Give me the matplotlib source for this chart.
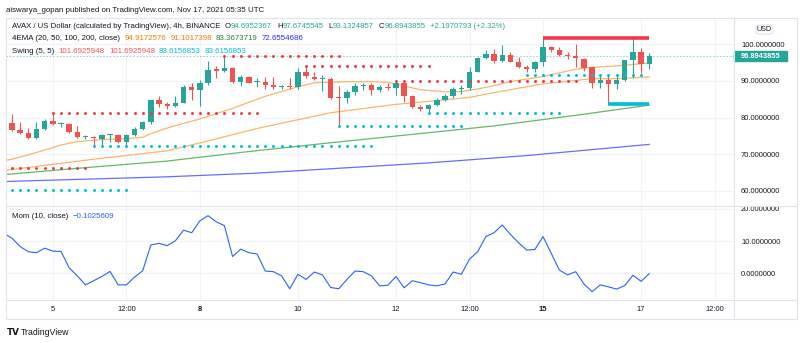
import matplotlib
matplotlib.use("Agg")
import matplotlib.pyplot as plt
from matplotlib.patches import Rectangle, FancyBboxPatch
from matplotlib.lines import Line2D
from matplotlib.ticker import FuncFormatter

W, H = 800, 343
FONT = "Liberation Sans"
plt.rcParams["font.family"] = [FONT, "DejaVu Sans"]

# AVAX/USD 4h candles, index 0 = Nov 4 04:00 UTC, last = Nov 17 04:00 UTC
opens = [78.4, 76.6, 75.9, 74.5, 76.9, 79.0, 78.1, 78.3, 76.1, 74.6,
         74.7, 74.2, 75.2, 75.3, 73.2, 75.1, 76.9, 78.7, 84.8, 83.6,
         83.2, 84.1, 88.4, 87.5, 89.3, 93.2, 92.8, 93.4, 89.8, 91.0,
         89.6, 89.8, 88.9, 88.2, 88.6, 88.2, 92.3, 91.2, 90.4, 90.5,
         85.4, 85.3, 87.1, 88.7, 89.0, 87.5, 88.4, 88.0, 89.3, 86.0,
         83.0, 82.3, 83.4, 84.8, 85.9, 87.8, 88.0, 92.5, 96.2, 97.3,
         95.4, 97.1, 95.1, 93.9, 93.2, 95.3, 99.4, 98.4, 97.2, 96.8,
         95.9, 93.7, 89.3, 90.2, 89.1, 90.2, 95.7, 97.8, 94.6952367]
highs = [81.0, 78.9, 77.2, 78.7, 79.6, 81.1, 78.8, 78.5, 77.7, 75.3,
         74.9, 75.6, 75.6, 75.6, 75.4, 77.5, 79.0, 84.9, 85.9, 84.3,
         85.9, 88.9, 89.3, 90.2, 95.4, 94.1, 96.9, 93.7, 91.6, 91.3,
         90.7, 91.0, 91.0, 88.9, 90.9, 93.4, 94.1, 92.3, 91.6, 91.2,
         88.7, 87.5, 89.3, 89.3, 89.3, 88.9, 89.3, 90.0, 89.8, 86.2,
         83.3, 83.8, 85.2, 86.3, 88.2, 88.9, 93.9, 96.6, 98.4, 98.6,
         99.8, 97.8, 96.6, 94.3, 95.5, 101.69, 99.6, 99.4, 98.0, 100.0,
         96.2, 93.9, 91.6, 91.6, 91.6, 95.7, 101.6, 99.1, 97.6745545]
lows = [76.2, 75.6, 74.2, 74.1, 76.7, 77.9, 77.5, 75.9, 74.3, 74.1,
        72.2, 72.6, 73.4, 73.0, 72.5, 74.9, 76.6, 78.1, 83.0, 82.3,
        82.9, 84.0, 84.8, 83.2, 89.0, 90.7, 92.3, 89.5, 88.7, 89.3,
        88.4, 87.9, 87.9, 87.8, 87.9, 87.9, 90.7, 90.2, 87.2, 85.1,
        77.7, 83.9, 86.2, 87.5, 86.1, 86.9, 87.5, 86.1, 84.3, 82.7,
        81.8, 81.3, 83.2, 84.6, 85.2, 86.3, 87.5, 92.3, 96.0, 94.8,
        95.2, 95.1, 93.6, 92.3, 92.5, 94.2, 97.8, 96.9, 96.0, 93.9,
        92.7, 88.0, 88.0, 83.6157, 87.8, 90.0, 90.9, 92.1, 93.1324857]
closes = [76.6, 75.9, 74.5, 76.8, 79.0, 78.1, 78.3, 76.1, 74.6, 74.7,
          74.3, 75.2, 75.4, 73.2, 75.2, 76.9, 78.7, 84.8, 83.7, 83.2,
          84.1, 88.4, 87.5, 89.3, 93.0, 92.8, 93.4, 89.8, 91.0, 89.5,
          89.9, 88.9, 88.2, 88.6, 88.2, 92.3, 91.4, 90.4, 90.6, 85.4,
          85.2, 87.1, 88.7, 89.0, 87.5, 88.4, 88.0, 89.3, 86.0, 83.0,
          82.2, 83.4, 84.8, 85.8, 87.8, 88.0, 92.5, 96.2, 97.3, 95.4,
          97.1, 95.3, 93.9, 93.3, 95.3, 99.4, 98.4, 97.2, 96.8, 96.2,
          93.6, 89.3, 90.2, 89.1, 90.2, 95.7, 97.8, 94.5, 96.8943855]

# EMA lines (candle index, value)
ema20_k = [-1, 0, 2, 4, 6, 8, 10, 12, 14, 16, 17, 18, 20, 23, 27, 31, 35,
           37, 41, 44, 46, 48, 50, 53, 55, 57, 59, 61, 65, 69, 71, 74, 76, 78]
ema20_v = [68.2, 68.6, 69.8, 71.1, 72.5, 73.4, 73.8, 74.1, 74.2, 74.6, 75.6,
           76.4, 77.8, 79.6, 82.5, 85.8, 88.4, 89.5, 89.8, 89.8, 89.6, 88.6,
           87.6, 87.0, 87.1, 87.8, 88.7, 89.8, 91.2, 93.2, 93.7, 94.1, 94.5,
           94.9172576]
ema50_k = [-1, 0, 10, 19, 24, 30, 39, 47, 51, 56, 59, 62, 65, 71, 74, 78]
ema50_v = [65.5, 65.8, 68.6, 70.9, 73.6, 77.0, 81.3, 83.6, 84.4, 85.5, 86.8,
           88.0, 89.2, 90.6, 90.6, 91.1017398]
ema100_k = [-1, 9, 19, 29, 39, 49, 59, 69, 78]
ema100_v = [64.4, 66.3, 68.1, 70.7, 73.1, 75.4, 77.7, 80.6, 83.3673719]
ema200_k = [-1, 19, 30, 39, 51, 63, 78]
ema200_v = [62.5, 63.8, 64.8, 66.0, 67.6, 69.6, 72.6554686]

# Swing(5,5) levels: first candle, last candle, price
hi_start = [0, 5, 26, 36, 47]
hi_end = [9, 30, 40, 51, 69]
hi_level = [66.2, 81.1, 96.9, 94.1, 90.0]
lo_start = [0, 10, 40, 51, 63]
lo_end = [14, 44, 55, 67, 77]
lo_level = [60.3, 72.2, 77.7, 81.3, 91.6]
last_hi = (65, 78, 101.6925948)
last_lo = (73, 78, 83.6156853)

# Mom(10, close), index -1 .. 78
mom = [12.4, 10.9, 8.3, 6.7, 6.4, 7.8, 6.9, 6.8, 1.7, -0.8, -3.6,
       -2.3, -1.0, 0.6, -3.6, -3.6, -1.2, 0.8, 8.8, 9.3, 8.6,
       10.1, 13.4, 12.6, 16.3, 17.9, 16.0, 14.8, 5.2, 7.5, 6.4,
       6.0, 0.7, 0.5, -0.8, -4.8, -0.3, -1.9, 0.4, -0.5, -4.4,
       -4.8, -1.9, 0.7, 0.5, -0.8, -3.9, -3.7, -1.0, -4.5, -2.3,
       -2.9, -3.6, -3.9, -3.3, 0.4, -0.3, 4.4, 6.7, 11.4, 12.6,
       15.0, 12.1, 9.5, 7.2, 7.4, 11.4, 6.2, 1.0, -0.5, 0.5,
       -3.3, -5.7, -3.6, -4.2, -4.9, -3.8, -0.6, -2.5, -0.1025609]

time_ticks = [5, 14, 23, 35, 47, 56, 65, 77, 86]
time_labels = ["5", "12:00", "8", "10", "12", "12:00", "15", "17", "12:00"]
price_ticks = [60, 70, 80, 90, 100]
mom_ticks = [0, 10, 20]

UP, DOWN = "#26a69a", "#ef5350"
RED, CYAN = "#f23645", "#00bcd4"
GRID = "#f0f3fa"
BORDER = "#e0e3eb"
TXT = "#131722"


def rect(x0, y0, x1, y1):
    return [x0 / W, 1 - y1 / H, (x1 - x0) / W, (y1 - y0) / H]


fig = plt.figure(figsize=(W / 100, H / 100), dpi=100)
fig.patch.set_facecolor("white")

ax = fig.add_axes(rect(6, 18, 734, 206))
axm = fig.add_axes(rect(6, 206, 734, 300), sharex=ax)
ax.set_xlim(-0.73, 88.37)
ax.set_ylim(55.82, 107.19)
axm.set_ylim(-8.29, 20.9)

for a in (ax, axm):
    for s in a.spines.values():
        s.set_visible(False)
    a.grid(True, color=GRID, lw=0.8)
    a.set_axisbelow(True)
    a.yaxis.tick_right()
    a.tick_params(axis="y", length=0, pad=5, labelsize=5.4, labelcolor=TXT)
    a.yaxis.set_major_formatter(FuncFormatter(lambda v, p: f"{v:.7f}"))
    a.set_xticks(time_ticks)

ax.set_yticks(price_ticks)
axm.set_yticks(mom_ticks)
ax.tick_params(axis="x", length=0, labelbottom=False)
axm.set_xticklabels(time_labels)
axm.tick_params(axis="x", length=0, pad=4.5, labelsize=5.4, labelcolor=TXT)
for lbl in axm.get_xticklabels():
    if lbl.get_text() in ("8", "15"):
        lbl.set_fontweight("bold")

# EMAs
ax.plot(ema200_k, ema200_v, color="#6b6bff", lw=0.9, zorder=2)
ax.plot(ema100_k, ema100_v, color="#66b866", lw=0.9, zorder=2)
ax.plot(ema50_k, ema50_v, color="#ffb366", lw=0.9, zorder=2)
ax.plot(ema20_k, ema20_v, color="#ffb366", lw=0.9, zorder=2)

# candles
for k, (o, h, l, c) in enumerate(zip(opens, highs, lows, closes)):
    col = UP if c >= o else DOWN
    ax.vlines(k, l, h, color=col, lw=0.8, zorder=3)
    ax.bar(k, max(abs(c - o), 0.3), bottom=min(o, c), width=0.66,
           color=col, zorder=3, linewidth=0)

# swing dots
for k0, k1, lev in zip(hi_start, hi_end, hi_level):
    ks = list(range(k0, k1 + 1))
    ax.scatter(ks, [lev] * len(ks), s=4.5, color=RED, lw=0, zorder=4)
for k0, k1, lev in zip(lo_start, lo_end, lo_level):
    ks = list(range(k0, k1 + 1))
    ax.scatter(ks, [lev] * len(ks), s=4.5, color=CYAN, lw=0, zorder=4)
ax.hlines(last_hi[2], last_hi[0], last_hi[1], color=RED, lw=2.6, zorder=4)
ax.hlines(last_lo[2], last_lo[0], last_lo[1], color=CYAN, lw=2.6, zorder=4)

# last price line
ax.axhline(closes[-1], color=UP, lw=0.6, ls=(0, (2, 2)), alpha=0.55, zorder=1)

# momentum
axm.plot(range(-1, len(mom) - 1), mom, color="#2962ff", lw=0.8)


# frame and separators
def fline(x0, y0, x1, y1, col=BORDER, lw=0.8):
    fig.add_artist(Line2D([x0 / W, x1 / W], [1 - y0 / H, 1 - y1 / H],
                          color=col, lw=lw))


fline(6, 18, 797, 18)
fline(6, 319, 797, 319)
fline(6, 18, 6, 319)
fline(797, 18, 797, 319)
fline(734, 18, 734, 319)
fline(6, 206, 797, 206)
fline(6, 300, 797, 300)

# price label on the axis
fig.add_artist(Rectangle((734 / W, 1 - 61 / H), 53 / W, 10 / H,
                         transform=fig.transFigure, color=UP))
fig.text(741 / W, 1 - 56 / H, f"{closes[-1]:.7f}", color="white",
         fontsize=5.4, va="center", ha="left", fontweight="bold")
fig.add_artist(FancyBboxPatch((756 / W, 1 - 34 / H), 17 / W, 9 / H,
                              boxstyle="round,pad=0,rounding_size=0.006",
                              transform=fig.transFigure, fc="white",
                              ec=BORDER, lw=0.8))
fig.text(764.5 / W, 1 - 29.5 / H, "USD", color=TXT, fontsize=5.2,
         va="center", ha="center")

renderer = fig.canvas.get_renderer()


def text_run(x, y, pieces, size):
    # pieces: (text, colour, gap after in px)
    for s, col, gap in pieces:
        t = fig.text(x / W, 1 - y / H, s, color=col, fontsize=size,
                     va="center", ha="left")
        bb = t.get_window_extent(renderer)
        x = bb.x1 + gap


fig.text(6.5 / W, 1 - 10 / H,
         "aiswarya_gopan published on TradingView.com, Nov 17, 2021 05:35 UTC",
         color=TXT, fontsize=5.7, va="center", ha="left")

text_run(12.5, 27, [
    ("AVAX / US Dollar (calculated by TradingView), 4h, BINANCE", TXT, 4),
    ("O", TXT, 0), ("94.6952367", UP, 5),
    ("H", TXT, 0), ("97.6745545", UP, 5),
    ("L", TXT, 0), ("93.1324857", UP, 5),
    ("C", TXT, 0), ("96.8943855", UP, 5),
    ("+2.1970793 (+2.32%)", UP, 0),
], 5.6)
text_run(12.5, 39, [
    ("4EMA (20, 50, 100, 200, close)", TXT, 4),
    ("94.9172576", "#f57c00", 4),
    ("91.1017398", "#f57c00", 4),
    ("83.3673719", "#2e7d32", 4),
    ("72.6554686", "#2929ff", 4),
], 5.7)
text_run(12.5, 51.5, [
    ("Swing (5, 5)", TXT, 4),
    ("101.6925948", "#f7525f", 4),
    ("101.6925948", "#f7525f", 4),
    ("83.6156853", CYAN, 4),
    ("83.6156853", CYAN, 4),
], 5.7)
text_run(12.5, 216, [
    ("Mom (10, close)", TXT, 4),
    ("\u22120.1025609", "#2962ff", 0),
], 5.7)

# TradingView mark
fig.text(7 / W, 1 - 332.5 / H, "TV", color=TXT, fontsize=6.3,
         fontweight="heavy", va="center", ha="left", family="DejaVu Sans")
fig.text(21 / W, 1 - 332.5 / H, "TradingView", color=TXT, fontsize=6.3,
         va="center", ha="left")

fig.savefig("out.png", dpi=100)
plt.close(fig)
